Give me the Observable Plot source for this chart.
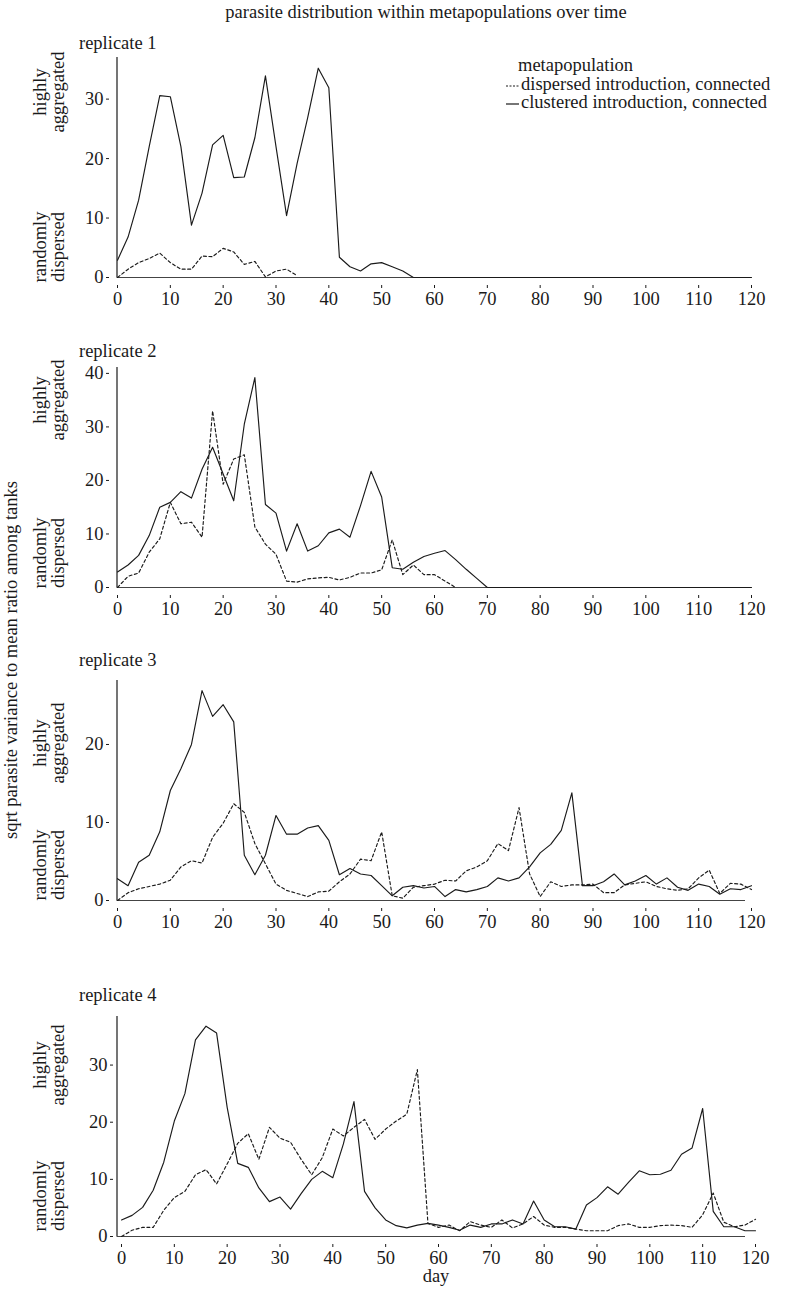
<!DOCTYPE html>
<html><head><meta charset="utf-8">
<script src="https://cdn.jsdelivr.net/npm/d3@7"></script>
<script src="https://cdn.jsdelivr.net/npm/@observablehq/plot@0.6"></script>
<style>
body{margin:0;background:#fff;}
#wrap{position:relative;width:792px;height:1295px;font-family:"Liberation Serif",serif;color:#1a1a1a;font-size:18.5px;overflow:hidden;}
.abs{position:absolute;white-space:nowrap;line-height:18px;}
.plot{position:absolute;left:0;}
.rot{position:absolute;white-space:nowrap;transform:translate(-50%,-50%) rotate(-90deg);text-align:center;line-height:18px;font-size:18.5px;}
</style></head><body><div id="wrap"></div>
<script>
const days = [0,2,4,6,8,10,12,14,16,18,20,22,24,26,28,30,32,34,36,38,40,42,44,46,48,50,52,54,56,58,60,62,64,66,68,70,72,74,76,78,80,82,84,86,88,90,92,94,96,98,100,102,104,106,108,110,112,114,116,118,120];
const xTicks = [0,10,20,30,40,50,60,70,80,90,100,110,120];
const seriesNames = ["dispersed introduction, connected", "clustered introduction, connected"];
const panelNames = ["replicate 1", "replicate 2", "replicate 3", "replicate 4"];

const rep1Dispersed = [0,1.4,2.5,3.2,4.1,2.5,1.4,1.4,3.6,3.5,4.9,4.3,2.2,2.7,0.1,1.1,1.4,0.3];
const rep1Clustered = [2.9,6.8,13.0,22.0,30.6,30.4,22.0,8.8,14.2,22.3,23.9,16.8,16.9,23.5,33.9,22.0,10.4,19.2,26.9,35.2,31.9,3.4,1.8,1.1,2.3,2.5,1.8,1.1,0,0,0,0,0,0,0,0,0,0,0,0,0,0,0,0,0,0,0,0,0,0,0,0,0,0,0,0,0,0,0,0,0];

const rep2Dispersed = [0,2.1,2.7,6.6,9.1,15.9,11.9,12.2,9.4,33.0,19.3,24.0,24.8,11.3,8.1,6.2,1.2,1.0,1.6,1.8,1.9,1.4,1.9,2.7,2.7,3.3,8.9,2.4,4.2,2.4,2.4,1.2,0];
const rep2Clustered = [2.9,4.2,6.0,9.7,15.0,15.9,17.9,16.7,22.1,26.2,21.2,16.2,30.5,39.2,15.5,13.9,6.8,11.9,6.8,7.8,10.2,10.9,9.4,15.3,21.7,16.9,3.7,3.4,4.7,5.8,6.4,6.9,5.2,3.4,1.7,0,0,0,0,0,0,0,0,0,0,0,0,0,0,0,0,0,0,0,0,0,0,0,0,0,0];

const rep3Dispersed = [0,1.0,1.5,1.8,2.1,2.6,4.3,5.1,4.8,8.1,9.9,12.4,11.3,7.3,4.7,2.1,1.3,0.9,0.5,1.1,1.2,2.4,3.4,5.3,5.1,8.8,0.6,0.3,1.7,1.9,2.1,2.6,2.5,3.8,4.3,5.1,7.3,6.4,11.9,3.4,0.5,2.4,1.8,2.0,2.0,2.1,1.0,1.0,2.0,2.2,2.4,1.8,1.5,1.3,1.5,2.9,3.9,0.9,2.2,2.1,1.4];
const rep3Clustered = [2.8,1.9,4.9,5.8,8.8,14.1,16.9,20.0,26.9,23.6,25.1,22.9,5.8,3.3,5.8,10.9,8.5,8.5,9.3,9.6,7.7,3.3,4.1,3.4,3.2,1.9,0.6,1.7,1.9,1.6,1.8,0.5,1.4,1.1,1.4,1.8,2.9,2.5,2.9,4.3,6.1,7.2,9.0,13.8,1.9,1.9,2.4,3.4,2.0,2.5,3.2,2.1,2.9,1.7,1.3,2.1,1.8,0.8,1.5,1.4,1.9];

const rep4Dispersed = [0,1.1,1.6,1.6,4.6,6.8,7.9,10.8,11.7,9.2,12.7,16.3,18.0,13.5,19.1,17.2,16.5,13.5,10.8,13.8,18.8,17.6,19.1,20.5,17.0,18.8,20.2,21.4,29.2,2.3,1.6,2.0,1.0,2.6,2.0,1.6,2.9,1.5,2.2,3.5,2.0,1.6,1.6,1.3,1.0,1.0,1.0,1.9,2.2,1.6,1.6,1.9,2.0,1.9,1.6,3.8,7.6,2.5,1.7,2.0,3.0];
const rep4Clustered = [2.9,3.7,5.1,8.1,13.0,20.2,25.0,34.4,36.8,35.6,22.6,12.8,12.1,8.5,6.1,6.9,4.8,7.5,10.0,11.4,10.3,16.2,23.6,7.9,5.0,2.9,1.9,1.5,2.0,2.3,2.0,1.6,1.1,2.0,1.6,2.2,2.2,2.9,2.2,6.2,2.9,1.7,1.7,1.3,5.5,6.8,8.7,7.4,9.5,11.5,10.8,10.9,11.6,14.4,15.5,22.4,4.4,1.7,1.7,1.0,1.0];

const yMaxes = [37, 41.1, 28.2, 38.5];
const yTicksList = [[0,10,20,30],[0,10,20,30,40],[0,10,20],[0,10,20,30]];

const panels = [
  {name: panelNames[0], disp: rep1Dispersed, clus: rep1Clustered, yMax: yMaxes[0], yTicks: yTicksList[0], top: 47, ml: 117, labelY: 43, aggY: 92, randY: 247},
  {name: panelNames[1], disp: rep2Dispersed, clus: rep2Clustered, yMax: yMaxes[1], yTicks: yTicksList[1], top: 357, ml: 117, labelY: 351, aggY: 400, randY: 553},
  {name: panelNames[2], disp: rep3Dispersed, clus: rep3Clustered, yMax: yMaxes[2], yTicks: yTicksList[2], top: 670, ml: 117, labelY: 660, aggY: 743, randY: 865},
  {name: panelNames[3], disp: rep4Dispersed, clus: rep4Clustered, yMax: yMaxes[3], yTicks: yTicksList[3], top: 1006, ml: 121, labelY: 995, aggY: 1065, randY: 1196}
];

const wrap = document.getElementById("wrap");
function addDiv(cls, html, style) {
  const d = document.createElement("div");
  d.className = cls;
  d.innerHTML = html;
  Object.assign(d.style, style);
  wrap.appendChild(d);
  return d;
}

const ink = "#1a1a1a";
panels.forEach((p) => {
  const toRows = (vals, s) => vals.map((v, i) => ({day: days[i], value: v, series: s}));
  const dispRows = toRows(p.disp, seriesNames[0]);
  const clusRows = toRows(p.clus, seriesNames[1]);
  const W = 792, H = 270;
  const mr = W - p.ml - 634;
  const shift = p.ml - 116.5;
  const chart = Plot.plot({
    width: W, height: H,
    marginTop: 10, marginBottom: 40, marginLeft: p.ml, marginRight: mr,
    x: {domain: [0, 120], label: null},
    y: {domain: [0, p.yMax], label: null},
    style: {fontFamily: "'Liberation Serif', serif", fontSize: "18.5px", color: ink, background: "transparent", overflow: "visible"},
    marks: [
      Plot.ruleY([0], {stroke: "#444", strokeWidth: 1.2, insetLeft: -shift, insetRight: 755 - 745 - (121 - p.ml)}),
      Plot.ruleX([0], {stroke: ink, strokeWidth: 1.2, dx: -shift}),
      Plot.axisX({ticks: xTicks, tickSize: 3, tickPadding: 3, dy: 8, stroke: ink, fill: ink}),
      Plot.axisY({ticks: p.yTicks, tickSize: 3, tickPadding: 3, dx: -8, stroke: ink, fill: ink}),
      Plot.lineY(dispRows, {x: "day", y: "value", stroke: ink, strokeWidth: 1.15, strokeDasharray: "3,2.5"}),
      Plot.lineY(clusRows, {x: "day", y: "value", stroke: ink, strokeWidth: 1.15})
    ]
  });
  chart.classList.add("plot");
  chart.style.top = p.top + "px";
  wrap.appendChild(chart);
  addDiv("abs", p.name, {left: "79px", top: (p.labelY - 9) + "px"});
  addDiv("rot", "highly<br>aggregated", {left: "49px", top: p.aggY + "px"});
  addDiv("rot", "randomly<br>dispersed", {left: "49px", top: p.randY + "px"});
});

addDiv("abs", "parasite distribution within metapopulations over time", {left: "0px", width: "852px", textAlign: "center", top: "3px"});
addDiv("rot", "sqrt parasite variance to mean ratio among tanks", {left: "11px", top: "660px"});
addDiv("abs", "day", {left: "0px", width: "872px", textAlign: "center", top: "1268px", lineHeight: "16px"});

// legend
const leg = addDiv("abs", "", {left: "506px", top: "56px"});
leg.innerHTML = `<div style="padding-left:12px;line-height:19px">metapopulation</div>
<div style="line-height:18px"><svg width="13" height="10" style="vertical-align:middle;margin-right:2px"><line x1="0" y1="5" x2="13" y2="5" stroke="${ink}" stroke-width="1" stroke-dasharray="2,1.5"/></svg>${seriesNames[0]}</div>
<div style="line-height:18px"><svg width="13" height="10" style="vertical-align:middle;margin-right:2px"><line x1="0" y1="5" x2="13" y2="5" stroke="${ink}" stroke-width="1.2"/></svg>${seriesNames[1]}</div>`;
</script>
</body></html>
